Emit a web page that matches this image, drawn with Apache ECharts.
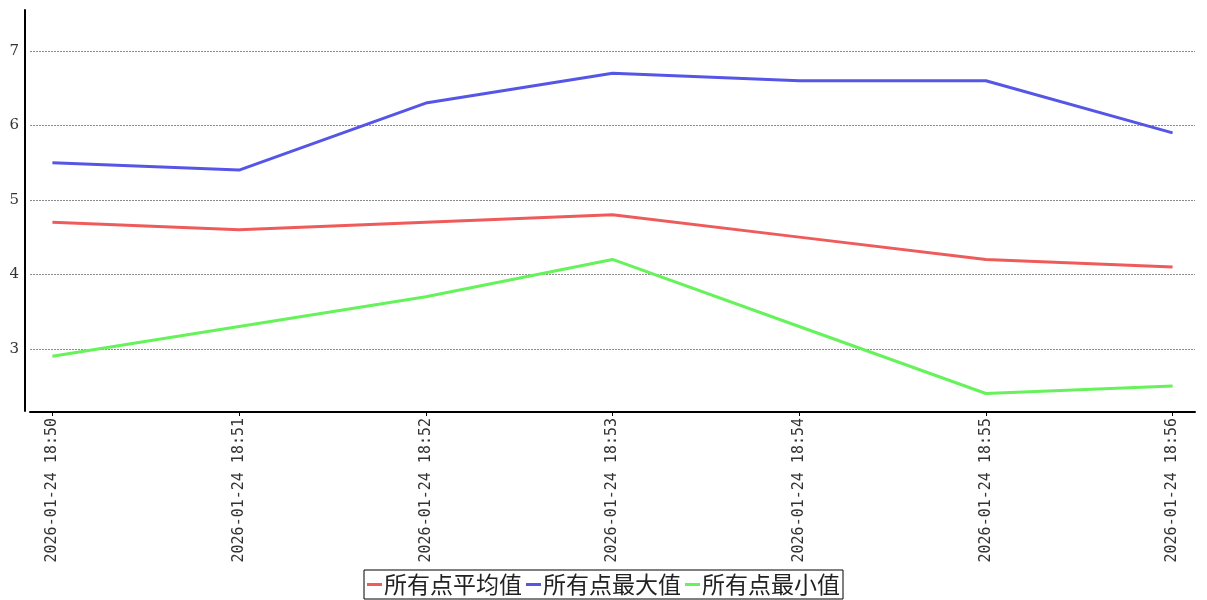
<!DOCTYPE html>
<html>
<head>
<meta charset="utf-8">
<style>
  html, body { margin: 0; padding: 0; background: #fff; }
  #chart { width: 1207px; height: 600px; }
</style>
<script src="https://cdn.jsdelivr.net/npm/echarts@6/dist/echarts.min.js"></script>
</head>
<body>
<div id="chart"></div>
<script>
var times = ['2026-01-24 18:50', '2026-01-24 18:51', '2026-01-24 18:52', '2026-01-24 18:53',
             '2026-01-24 18:54', '2026-01-24 18:55', '2026-01-24 18:56'];
var seriesNames = ['所有点平均值', '所有点最大值', '所有点最小值'];
var avgValues = [4.7, 4.6, 4.7, 4.8, 4.5, 4.2, 4.1];
var maxValues = [5.5, 5.4, 6.3, 6.7, 6.6, 6.6, 5.9];
var minValues = [2.9, 3.3, 3.7, 4.2, 3.3, 2.4, 2.5];
var yTicks = [3, 4, 5, 6, 7];

var myColor = ['#ef5b5b', '#5656e6', '#66f25a'];

function toPoints(vals) {
    var pts = [];
    for (var i = 0; i < vals.length; i++) {
        pts.push([i, vals[i]]);
    }
    return pts;
}

var idx = [];
for (var i = 0; i < times.length; i++) idx.push(i);

var allValues = [avgValues, maxValues, minValues];
var se = [];
for (var k = 0; k < 3; k++) {
    se.push({
        name: seriesNames[k],
        type: 'line',
        showSymbol: false,
        symbol: 'none',
        data: toPoints(allValues[k]),
        lineStyle: { width: 3, color: myColor[k] },
        itemStyle: { color: myColor[k] }
    });
}

var chart = echarts.init(document.getElementById('chart'));
chart.setOption({
    backgroundColor: '#fff',
    animation: false,
    color: myColor,
    grid: {
        left: 30,
        right: 12,
        top: 10,
        bottom: 189,
        containLabel: false
    },
    legend: {
        show: true,
        bottom: 1,
        left: 'center',
        data: seriesNames,
        icon: 'rect',
        itemWidth: 15,
        itemHeight: 3,
        itemGap: 4,
        padding: [3, 3, 3, 3],
        borderColor: '#000',
        borderWidth: 1,
        backgroundColor: '#fff',
        textStyle: {
            color: '#222',
            fontSize: 23,
            fontFamily: '"Noto Sans CJK SC", sans-serif',
            padding: [0, 0, 0, -3]
        }
    },
    xAxis: {
        type: 'value',
        min: -0.12,
        max: 6.12,
        offset: 1,
        axisLine: { show: true, onZero: false, lineStyle: { color: '#000', width: 2 } },
        axisTick: { show: true, length: 4, customValues: idx, lineStyle: { color: '#000' } },
        splitLine: { show: false },
        axisLabel: {
            customValues: idx,
            rotate: 90,
            margin: 6,
            color: '#333',
            fontSize: 15,
            fontFamily: '"DejaVu Sans Mono", monospace',
            formatter: function (v) {
                return times[Math.round(v)] || '';
            }
        }
    },
    yAxis: {
        type: 'value',
        min: 2.165,
        max: 7.55,
        offset: 5,
        axisLine: { show: true, onZero: false, lineStyle: { color: '#000', width: 2 } },
        axisTick: { show: false },
        axisLabel: {
            customValues: yTicks,
            margin: 6,
            color: '#333',
            fontSize: 15,
            fontFamily: '"DejaVu Serif", serif'
        },
        splitLine: {
            show: true,
            showMinLine: false,
            showMaxLine: false,
            lineStyle: { color: '#8a8a8a', type: [2, 1], width: 1 }
        }
    },
    series: se
});
</script>
</body>
</html>
